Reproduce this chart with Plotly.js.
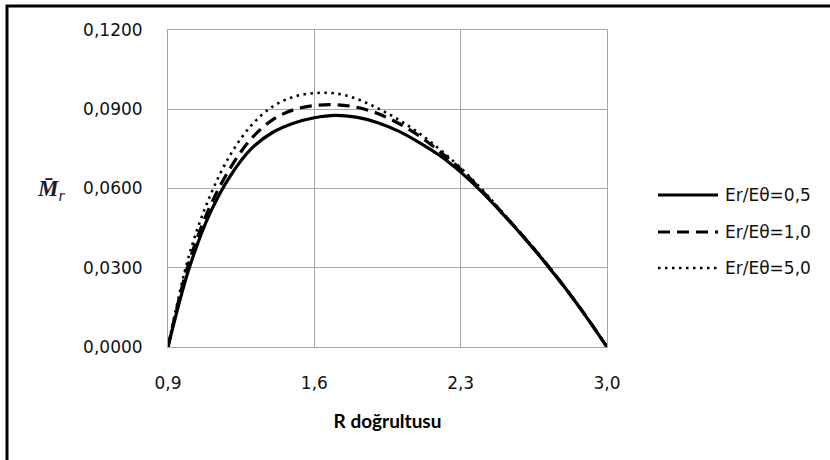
<!DOCTYPE html>
<html>
<head>
<meta charset="utf-8">
<script src="https://cdn.plot.ly/plotly-3.0.1.min.js"></script>
<style>html,body{margin:0;padding:0;background:#fff;}#chart{width:830px;height:460px;}</style>
</head>
<body>
<div id="chart"></div>
<script>
const rValues = [0.9, 1.0, 1.1, 1.2, 1.3, 1.4, 1.5, 1.6, 1.7, 1.8, 1.9, 2.0, 2.1, 2.2, 2.3, 2.4, 2.5, 2.6, 2.7, 2.8, 2.9, 3.0];
const mr05 = [0, 0.0295, 0.0505, 0.0650, 0.0752, 0.0812, 0.0847, 0.0868, 0.0877, 0.0870, 0.0850, 0.0818, 0.0775, 0.0725, 0.0662, 0.0588, 0.0505, 0.0417, 0.0323, 0.0223, 0.0115, 0];
const mr10 = [0, 0.0320, 0.0530, 0.0680, 0.0790, 0.0860, 0.0898, 0.0914, 0.0917, 0.0908, 0.0885, 0.0848, 0.0800, 0.0740, 0.0673, 0.0593, 0.0507, 0.0418, 0.0325, 0.0224, 0.0116, 0];
const mr50 = [0, 0.0345, 0.0570, 0.0730, 0.0840, 0.0910, 0.0947, 0.0961, 0.0960, 0.0940, 0.0905, 0.0862, 0.0810, 0.0748, 0.0678, 0.0598, 0.0510, 0.0420, 0.0326, 0.0225, 0.0116, 0];
const seriesNames = ["Er/Eθ=0,5", "Er/Eθ=1,0", "Er/Eθ=5,0"];
const xTickVals = [0.9, 1.6, 2.3, 3.0];
const xTickText = ["0,9", "1,6", "2,3", "3,0"];
const yTickVals = [0, 0.03, 0.06, 0.09, 0.12];
const yTickText = ["0,0000", "0,0300", "0,0600", "0,0900", "0,1200"];

const dashes = ["solid", "12px,7px", "2.5px,4.5px"];
const widths = [3.2, 3.2, 2.6];
const seriesY = [mr05, mr10, mr50];

const traces = seriesY.map((ys, i) => ({
  x: rValues, y: ys, name: seriesNames[i], type: "scatter", mode: "lines",
  line: {color: "#000", width: widths[i], dash: dashes[i], shape: "spline", smoothing: 1},
  showlegend: false, hoverinfo: "x+y+name"
}));

// manual legend (line samples + labels) in paper coordinates
const L = 168, W = 439, B = 347, H = 317;
const px = v => (v - L) / W;
const py = v => (B - v) / H;
const legendY = [195, 232, 268];
const shapes = [
  {type: "rect", xref: "paper", yref: "paper", x0: px(7), x1: px(840), y0: py(6), y1: py(470),
   line: {color: "#000", width: 3}, fillcolor: "rgba(0,0,0,0)", layer: "above"}
];
const annotations = [];
seriesNames.forEach((n, i) => {
  shapes.push({type: "line", xref: "paper", yref: "paper", x0: px(658), x1: px(718), y0: py(legendY[i]), y1: py(legendY[i]),
    line: {color: "#000", width: widths[i], dash: dashes[i]}});
  annotations.push({xref: "paper", yref: "paper", x: px(723), y: py(legendY[i]), xanchor: "left", yanchor: "middle",
    text: n, showarrow: false, font: {family: "DejaVu Sans", size: 17, color: "#111"}});
});
annotations.push({xref: "paper", yref: "paper", x: px(51), y: py(190), xanchor: "center", yanchor: "middle",
  text: "<b><i>M̄</i></b><sub><i>r</i></sub>", showarrow: false,
  font: {family: "Liberation Serif", size: 23, color: "#1a1a2a"}});

const layout = {
  width: 830, height: 460,
  margin: {l: 168, r: 223, t: 30, b: 113, pad: 0},
  paper_bgcolor: "#fff", plot_bgcolor: "#fff",
  showlegend: false,
  xaxis: {
    range: [0.9, 3.0], tickvals: xTickVals, ticktext: xTickText,
    showgrid: true, gridcolor: "#a6a6a6", gridwidth: 1,
    showline: true, linecolor: "#a6a6a6", linewidth: 1, mirror: true,
    zeroline: false, ticks: "", ticklabelstandoff: 21,
    tickfont: {family: "DejaVu Sans", size: 17, color: "#111"},
    title: {text: "<b>R doğrultusu</b>", font: {family: "Lato", size: 19, color: "#000"}, standoff: 22},
    automargin: false
  },
  yaxis: {
    range: [0, 0.12], tickvals: yTickVals, ticktext: yTickText,
    showgrid: true, gridcolor: "#a6a6a6", gridwidth: 1,
    showline: true, linecolor: "#a6a6a6", linewidth: 1, mirror: true,
    zeroline: false, ticks: "", ticklabelstandoff: 21,
    tickfont: {family: "DejaVu Sans", size: 17, color: "#111"},
    automargin: false
  },
  shapes: shapes,
  annotations: annotations
};

Plotly.newPlot("chart", traces, layout, {displayModeBar: false, staticPlot: true});
</script>
</body>
</html>
